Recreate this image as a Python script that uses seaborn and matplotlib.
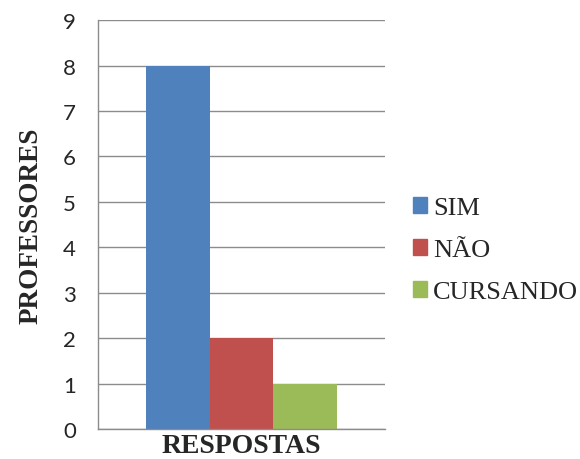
import pandas as pd
import matplotlib.pyplot as plt
import seaborn as sns
from matplotlib.patches import Patch

categories = ['SIM', 'NÃO', 'CURSANDO']
values = [8, 2, 1]
colors = ['#4F81BD', '#C0504D', '#9BBB59']
group = 'RESPOSTAS'

df = pd.DataFrame({'grupo': [group] * 3, 'resposta': categories, 'professores': values})

sns.set_style('white')
fig = plt.figure(figsize=(5.8, 4.6), dpi=100)
ax = fig.add_axes([0.169, 0.065, 0.495, 0.889])

sns.barplot(data=df, x='grupo', y='professores', hue='resposta', hue_order=categories,
            palette=colors, width=0.665, saturation=1, linewidth=0, ax=ax, legend=False)

ax.set_xlim(-0.5, 0.5)
ax.set_ylim(0, 9)
ax.set_yticks(range(0, 10))
ax.yaxis.grid(True, color='#8c8c8c', linewidth=1)
ax.set_axisbelow(True)
for s in ['top', 'right']:
    ax.spines[s].set_visible(False)
for s in ['left', 'bottom']:
    ax.spines[s].set_color('#8c8c8c')
    ax.spines[s].set_linewidth(1)
ax.tick_params(axis='y', length=10, color='#8c8c8c', width=1, pad=6, labelsize=16)
ax.tick_params(axis='x', length=0, pad=3)
for t in ax.get_yticklabels():
    t.set_fontfamily('Lato')
for t in ax.get_xticklabels():
    t.set_fontfamily('Liberation Serif')
    t.set_fontweight('bold')
    t.set_fontsize(20)
ax.set_xlabel('')
ax.set_ylabel('PROFESSORES', fontfamily='Liberation Serif', fontweight='bold',
              fontsize=19.5, labelpad=14)

handles = [Patch(color=c) for c in colors]
fig.legend(handles, categories, loc='center left', bbox_to_anchor=(0.712, 0.454),
           frameon=False, prop={'family': 'Liberation Serif', 'size': 19},
           handlelength=0.55, handleheight=0.55, handletextpad=0.2, labelspacing=0.75,
           borderpad=0, borderaxespad=0)

fig.savefig('out.png', dpi=100)
